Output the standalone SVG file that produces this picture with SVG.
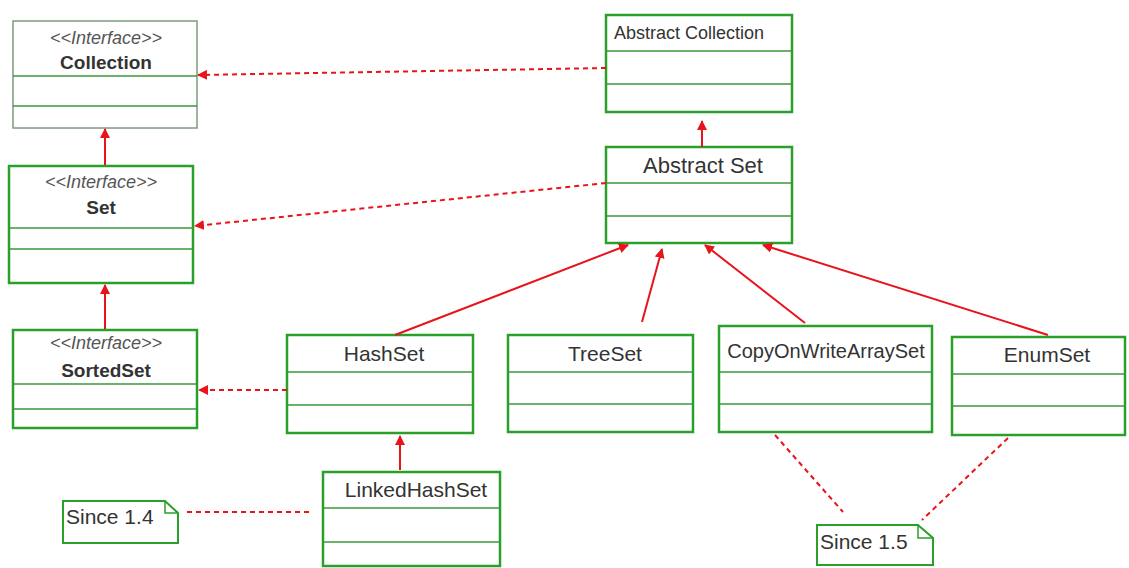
<svg xmlns="http://www.w3.org/2000/svg" width="1129" height="568" viewBox="0 0 1129 568">
<defs>
<marker id="ah" viewBox="0 0 10 10" refX="9" refY="5" markerWidth="10" markerHeight="10" markerUnits="userSpaceOnUse" orient="auto">
<path d="M0,0 L10,5 L0,10 Z" fill="#e8141c"/>
</marker>
<style>
.box{fill:#fff;stroke:#2aa02a;stroke-width:2.5}
.box2{fill:#fff;stroke:#7f9a7f;stroke-width:1.5}
.sep{stroke:#3a963a;stroke-width:1.5}
.t{font-family:"Liberation Sans",Arial,sans-serif;fill:#333;text-anchor:middle}
.l{text-anchor:start}
.st{font-size:18px;font-style:italic;fill:#555}
.nm{font-size:19px;font-weight:bold}
.cls{font-size:21px}
.note{fill:#fff;stroke:#2aa02a;stroke-width:2}
.solid{stroke:#e8141c;stroke-width:2;fill:none;marker-end:url(#ah)}
.dash{stroke:#e8141c;stroke-width:2;fill:none;stroke-dasharray:5 4;marker-end:url(#ah)}
.dashn{stroke:#e8141c;stroke-width:2;fill:none;stroke-dasharray:5 4}
</style>
</defs>
<rect width="1129" height="568" fill="#fff"/>

<g id="Collection">
<rect class="box2" x="13" y="21" width="184" height="107"/>
<line class="sep" x1="13" y1="76" x2="197" y2="76"/>
<line class="sep" x1="13" y1="106" x2="197" y2="106"/>
<text class="t st" x="106" y="44">&lt;&lt;Interface&gt;&gt;</text>
<text class="t nm" x="106" y="69">Collection</text>
</g>

<g id="Set">
<rect class="box" x="9" y="166" width="184" height="117"/>
<line class="sep" x1="9" y1="228" x2="193" y2="228"/>
<line class="sep" x1="9" y1="249" x2="193" y2="249"/>
<text class="t st" x="101" y="188">&lt;&lt;Interface&gt;&gt;</text>
<text class="t nm" x="101" y="214">Set</text>
</g>

<g id="SortedSet">
<rect class="box" x="13" y="330" width="184" height="98"/>
<line class="sep" x1="13" y1="384" x2="197" y2="384"/>
<line class="sep" x1="13" y1="409" x2="197" y2="409"/>
<text class="t st" x="106" y="349">&lt;&lt;Interface&gt;&gt;</text>
<text class="t nm" x="106" y="377">SortedSet</text>
</g>

<g id="AbstractCollection">
<rect class="box" x="606" y="15" width="186" height="97"/>
<line class="sep" x1="606" y1="51" x2="792" y2="51"/>
<line class="sep" x1="606" y1="84" x2="792" y2="84"/>
<text class="t l" x="614" y="39" font-size="18">Abstract Collection</text>
</g>

<g id="AbstractSet">
<rect class="box" x="606" y="147" width="186" height="96"/>
<line class="sep" x1="606" y1="183" x2="792" y2="183"/>
<line class="sep" x1="606" y1="216" x2="792" y2="216"/>
<text class="t" x="703" y="173" font-size="22">Abstract Set</text>
</g>

<g id="HashSet">
<rect class="box" x="287" y="335" width="186" height="98"/>
<line class="sep" x1="287" y1="372" x2="473" y2="372"/>
<line class="sep" x1="287" y1="405" x2="473" y2="405"/>
<text class="t cls" x="384" y="361">HashSet</text>
</g>

<g id="TreeSet">
<rect class="box" x="508" y="335" width="185" height="97"/>
<line class="sep" x1="508" y1="372" x2="693" y2="372"/>
<line class="sep" x1="508" y1="404" x2="693" y2="404"/>
<text class="t cls" x="605" y="361">TreeSet</text>
</g>

<g id="CopyOnWriteArraySet">
<rect class="box" x="719" y="326" width="213" height="106"/>
<line class="sep" x1="719" y1="372" x2="932" y2="372"/>
<line class="sep" x1="719" y1="404" x2="932" y2="404"/>
<text class="t" x="826" y="358" font-size="20">CopyOnWriteArraySet</text>
</g>

<g id="EnumSet">
<rect class="box" x="952" y="337" width="173" height="98"/>
<line class="sep" x1="952" y1="374" x2="1125" y2="374"/>
<line class="sep" x1="952" y1="406" x2="1125" y2="406"/>
<text class="t cls" x="1047" y="362">EnumSet</text>
</g>

<g id="LinkedHashSet">
<rect class="box" x="323" y="472" width="177" height="94"/>
<line class="sep" x1="323" y1="508" x2="500" y2="508"/>
<line class="sep" x1="323" y1="542" x2="500" y2="542"/>
<text class="t cls" x="416" y="497">LinkedHashSet</text>
</g>

<g id="Note14">
<path class="note" d="M63,501 H165 L178,513 V543 H63 Z"/>
<path d="M165,501 V513 H178" fill="none" stroke="#2aa02a" stroke-width="1.5"/>
<text class="t l cls" x="66" y="524">Since 1.4</text>
</g>

<g id="Note15">
<path class="note" d="M817,525 H918 L933,538 V565 H817 Z"/>
<path d="M918,525 V538 H933" fill="none" stroke="#2aa02a" stroke-width="1.5"/>
<text class="t l cls" x="820" y="549">Since 1.5</text>
</g>

<g id="connectors">
<line class="dash" x1="606" y1="68" x2="198" y2="75"/>
<line class="dash" x1="606" y1="183" x2="195" y2="226"/>
<line class="dash" x1="287" y1="390" x2="199" y2="390"/>
<line class="solid" x1="105" y1="165" x2="105" y2="129"/>
<line class="solid" x1="105" y1="329" x2="105" y2="285"/>
<line class="solid" x1="702" y1="147" x2="702" y2="121"/>
<line class="solid" x1="395" y1="335" x2="628" y2="245"/>
<line class="solid" x1="642" y1="322" x2="662" y2="249"/>
<line class="solid" x1="805" y1="323" x2="705" y2="245"/>
<line class="solid" x1="1048" y1="335" x2="763" y2="245"/>
<line class="solid" x1="400" y1="470" x2="400" y2="436"/>
<line class="dashn" x1="187" y1="512" x2="313" y2="512"/>
<line class="dashn" x1="775" y1="435" x2="843" y2="512"/>
<line class="dashn" x1="1008" y1="438" x2="922" y2="520"/>
</g>
</svg>
